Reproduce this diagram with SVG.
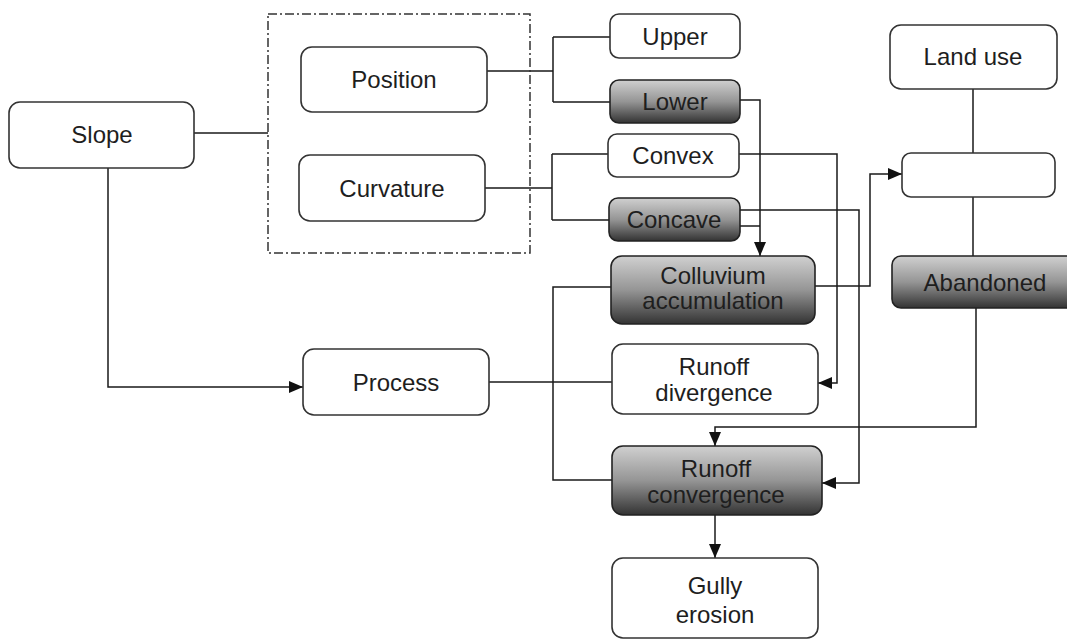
<svg xmlns="http://www.w3.org/2000/svg" width="1067" height="641" viewBox="0 0 1067 641">
<defs>
<linearGradient id="dark" x1="0" y1="0" x2="0" y2="1">
<stop offset="0" stop-color="#d0d0d0"/>
<stop offset="0.5" stop-color="#959595"/>
<stop offset="1" stop-color="#333"/>
</linearGradient>
<marker id="arr" viewBox="0 0 14 12" refX="14" refY="6" markerWidth="14" markerHeight="12" markerUnits="userSpaceOnUse" orient="auto">
<path d="M0,0 L14,6 L0,12 Z" fill="#111"/>
</marker>
<style>
.n{fill:#fff;stroke:#333;stroke-width:1.6}
.d{fill:url(#dark);stroke:#222;stroke-width:1.6}
text{font-family:"Liberation Sans",Arial,sans-serif;font-size:24px;fill:#1e1e1e;text-anchor:middle}
.c{fill:none;stroke:#1a1a1a;stroke-width:1.5}
.a{fill:none;stroke:#1a1a1a;stroke-width:1.5;marker-end:url(#arr)}
.g{fill:none;stroke:#333;stroke-width:1.5;stroke-dasharray:9,3,2,3}
</style>
</defs>
<rect width="1067" height="641" fill="#fff"/>
<g id="connectors">
<path class="c" d="M194,133 H268"/>
<path class="a" d="M108,168 V387 H303"/>
<path class="c" d="M487,71 H553 M553,37 V102 M553,37 H610 M553,102 H610"/>
<path class="c" d="M485,188 H552 M552,154 V220 M552,154 H608 M552,220 H609"/>
<path class="a" d="M740,100 H760 V256"/>
<path class="c" d="M740,226 H760"/>
<path class="a" d="M739,154 H837 V383 H818"/>
<path class="a" d="M740,210 H859 V483 H822"/>
<path class="c" d="M489,382 H612"/>
<path class="c" d="M611,287 H553 V480 H612"/>
<path class="a" d="M815,286 H870 V174 H902"/>
<path class="c" d="M973,89 V153 M973,197 V256"/>
<path class="a" d="M976,308 V427 H715 V446"/>
<path class="a" d="M715,515 V558"/>
</g>
<rect class="g" x="268" y="14" width="262" height="239"/>
<g id="slope"><rect class="n" x="9" y="102" width="185" height="66" rx="11"/><text x="102" y="143">Slope</text></g>
<g id="position"><rect class="n" x="301" y="47" width="186" height="65" rx="11"/><text x="394" y="88">Position</text></g>
<g id="curvature"><rect class="n" x="299" y="155" width="186" height="66" rx="11"/><text x="392" y="197">Curvature</text></g>
<g id="process"><rect class="n" x="303" y="349" width="186" height="66" rx="11"/><text x="396" y="391">Process</text></g>
<g id="upper"><rect class="n" x="610" y="14" width="130" height="44" rx="9"/><text x="675" y="45">Upper</text></g>
<g id="lower"><rect class="d" x="610" y="80" width="130" height="43" rx="9"/><text x="675" y="110">Lower</text></g>
<g id="convex"><rect class="n" x="608" y="134" width="131" height="43" rx="9"/><text x="673" y="164">Convex</text></g>
<g id="concave"><rect class="d" x="609" y="198" width="131" height="43" rx="9"/><text x="674" y="228">Concave</text></g>
<g id="colluvium"><rect class="d" x="611" y="256" width="204" height="68" rx="11"/><text x="713" y="284">Colluvium</text><text x="713" y="309">accumulation</text></g>
<g id="runoff-divergence"><rect class="n" x="612" y="344" width="206" height="70" rx="11"/><text x="714" y="375">Runoff</text><text x="714" y="401">divergence</text></g>
<g id="runoff-convergence"><rect class="d" x="612" y="446" width="210" height="69" rx="11"/><text x="716" y="477">Runoff</text><text x="716" y="503">convergence</text></g>
<g id="gully-erosion"><rect class="n" x="612" y="558" width="206" height="80" rx="11"/><text x="715" y="594">Gully</text><text x="715" y="623">erosion</text></g>
<g id="land-use"><rect class="n" x="890" y="25" width="167" height="64" rx="11"/><text x="973" y="65">Land use</text></g>
<g id="blank"><rect class="n" x="902" y="153" width="153" height="44" rx="9"/></g>
<g id="abandoned"><rect class="d" x="892" y="256" width="185" height="52" rx="9"/><text x="985" y="291">Abandoned</text></g>
</svg>
